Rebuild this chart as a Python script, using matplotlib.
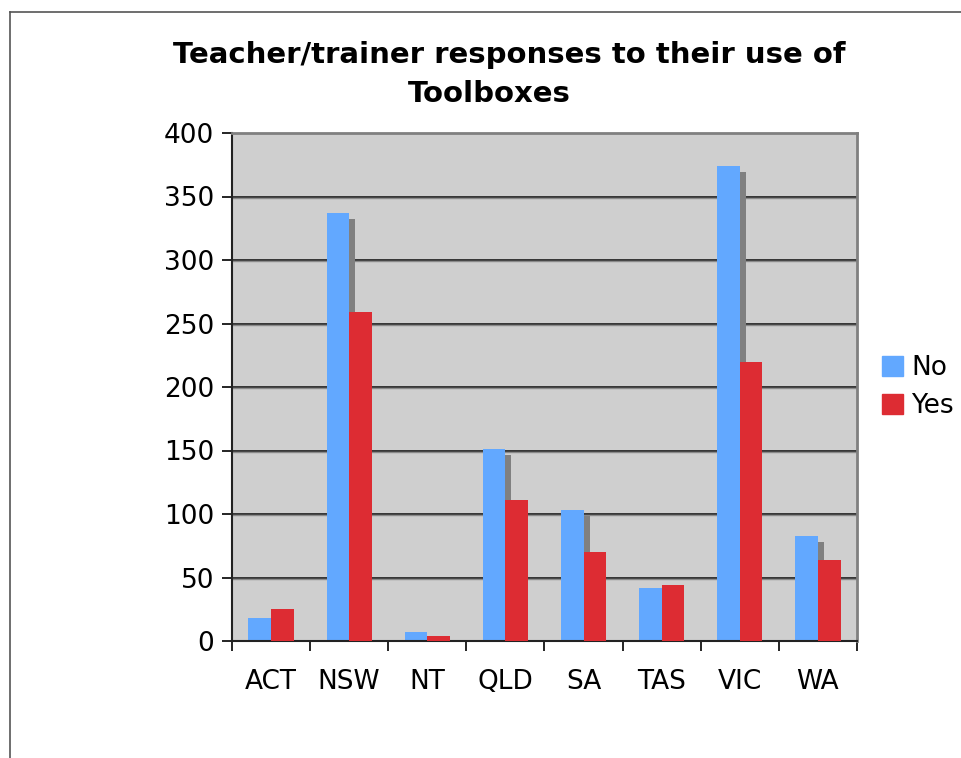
"""
Teacher/trainer responses to their use of Toolboxes - grouped bar chart
"""
import matplotlib.pyplot as plt
import matplotlib.patheffects as pe
import numpy as np
from matplotlib.lines import Line2D
from matplotlib.patches import Patch

# Data
states = ["ACT", "NSW", "NT", "QLD", "SA", "TAS", "VIC", "WA"]
no_counts = [18, 337, 7, 151, 103, 42, 374, 83]
yes_counts = [25, 259, 4, 111, 70, 44, 220, 64]
y_ticks = [0, 50, 100, 150, 200, 250, 300, 350, 400]

blue = "#62A8FF"
red = "#DD2C33"

plt.rcParams["font.family"] = "DejaVu Sans"

fig = plt.figure(figsize=(9.62, 7.58), dpi=100)
ax = fig.add_axes([232 / 962, 1 - 641 / 758, 625 / 962, 508 / 758])
ax.set_facecolor("#CFCFCF")

x = np.arange(len(states))
w = 0.29

# gridlines (black with a faint grey line below)
for t in y_ticks[1:-1]:
    ax.axhline(t, color="#1a1a1a", lw=1.2, zorder=1)
    ax.axhline(t - 0.9, color="#8a8a8a", lw=1.0, zorder=1)

shadow = [pe.SimplePatchShadow(offset=(4.3, -4.3), shadow_rgbFace="#808080", alpha=1.0),
          pe.Normal()]
bars_no = ax.bar(x - w / 2, no_counts, w, color=blue, zorder=2)
for b in bars_no:
    b.set_path_effects(shadow)
ax.bar(x + w / 2, yes_counts, w, color=red, zorder=3)

ax.set_xlim(-0.5, len(states) - 0.5)
ax.set_ylim(0, 400)
ax.set_yticks(y_ticks)
ax.tick_params(axis="y", labelsize=19, length=7, width=1.2, pad=6, direction="out")

ax.set_xticks(x)
ax.set_xticklabels(states)
ax.set_xticks(np.arange(len(states) + 1) - 0.5, minor=True)
ax.tick_params(axis="x", which="major", length=0, labelsize=19, pad=20)
ax.tick_params(axis="x", which="minor", length=7, width=1.2, direction="out")

for s in ["left", "bottom"]:
    ax.spines[s].set_color("#222222")
    ax.spines[s].set_linewidth(1.5)
for s in ["right", "top"]:
    ax.spines[s].set_color("#808080")
    ax.spines[s].set_linewidth(2)

fig.text(0.529, 1 - 55 / 758, "Teacher/trainer responses to their use of",
         ha="center", va="center", fontsize=21, fontweight="bold")
fig.text(0.509, 1 - 94 / 758, "Toolboxes",
         ha="center", va="center", fontsize=21, fontweight="bold")

handles = [Patch(color=blue, label="No"), Patch(color=red, label="Yes")]
fig.legend(handles=handles, loc="center left", bbox_to_anchor=(882 / 962, 1 - 387 / 758),
           frameon=False, fontsize=19, handlelength=0.8, handleheight=0.8,
           handletextpad=0.3, labelspacing=0.45, borderaxespad=0, borderpad=0)

# outer chart frame
fig.add_artist(Line2D([10 / 962, 10 / 962], [0, 1 - 12 / 758], color="#555555", lw=1.2))
fig.add_artist(Line2D([10 / 962, 1], [1 - 12 / 758, 1 - 12 / 758], color="#555555", lw=1.2))

plt.savefig("out.png", dpi=100)
